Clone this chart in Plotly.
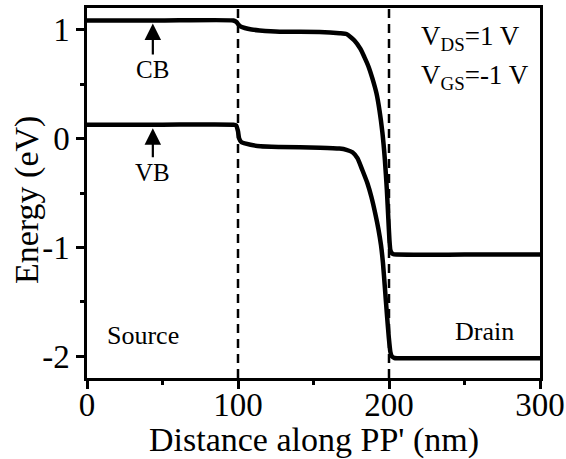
import plotly.graph_objects as go

# Position along PP' (nm) and band energies (eV)
cb_x = [0, 50, 97, 99, 100, 101.3, 104.5, 109, 114.3, 127.6, 154, 167.2, 171.8, 177.1,
        181.1, 183.7, 186.4, 189.0, 191.7, 193.7, 195.6, 197.3, 198.6, 199.6, 200.3,
        200.9, 201.6, 202.6, 204.9, 250, 300]
cb_e = [1.085, 1.085, 1.085, 1.071, 1.053, 1.034, 1.016, 1.002, 0.994, 0.982, 0.980,
        0.969, 0.961, 0.902, 0.824, 0.749, 0.663, 0.553, 0.416, 0.260, 0.058, -0.199,
        -0.475, -0.750, -0.933, -1.025, -1.048, -1.061, -1.066, -1.066, -1.066]

vb_x = [0, 50, 97, 98.7, 100, 100.7, 102.3, 108.3, 114.9, 127.8, 154.3, 167.2, 171.8,
        175.8, 179.1, 182.4, 185.7, 188.4, 191.0, 193.0, 194.7, 196.0, 197.3, 198.6,
        199.9, 200.9, 201.9, 203.6, 205.5, 250, 300]
vb_e = [0.128, 0.128, 0.128, 0.122, 0.067, 0.003, -0.034, -0.057, -0.071, -0.077, -0.084,
        -0.092, -0.103, -0.126, -0.180, -0.291, -0.410, -0.539, -0.695, -0.833, -0.979,
        -1.144, -1.373, -1.612, -1.832, -1.960, -2.002, -2.016, -2.018, -2.018, -2.018]

# Source/channel and channel/drain boundaries
boundaries = [100, 200]

x_ticks = [0, 100, 200, 300]
y_ticks = [-2, -1, 0, 1]

FONT = "Liberation Serif"

fig = go.Figure()
for xs, es, name in [(cb_x, cb_e, "CB"), (vb_x, vb_e, "VB")]:
    fig.add_trace(go.Scatter(x=xs, y=es, mode="lines", name=name,
                             line=dict(color="black", width=4.5, shape="spline", smoothing=0.5)))

for xb in boundaries:
    fig.add_shape(type="line", xref="x", yref="paper", x0=xb, x1=xb, y0=0, y1=1,
                  line=dict(color="black", width=2.5, dash="9px,6px"), layer="below")

axis_common = dict(
    showline=True, linecolor="black", linewidth=2.5, mirror=True,
    ticks="outside", tickcolor="black", tickwidth=2.5, ticklen=8,
    showgrid=False, zeroline=False, automargin=False,
    tickfont=dict(family=FONT, size=33, color="black"),
)

fig.update_xaxes(
    range=[0, 300], tickvals=x_ticks, ticktext=[str(v) for v in x_ticks],
    ticklabelstandoff=-12,
    minor=dict(dtick=50, tick0=0, ticks="outside", ticklen=4, tickwidth=2.5, tickcolor="black"),
    **axis_common,
)
fig.update_yaxes(
    range=[-2.2, 1.2], tickvals=y_ticks, ticktext=[str(v) for v in y_ticks],
    minor=dict(dtick=0.5, tick0=0, ticks="outside", ticklen=4, tickwidth=2.5, tickcolor="black"),
    **axis_common,
)

title_font = dict(family=FONT, size=34, color="black")
label_font = dict(family=FONT, size=25, color="black")
region_font = dict(family=FONT, size=26, color="black")
bias_font = dict(family=FONT, size=27, color="black")

annotations = [
    dict(xref="paper", yref="paper", x=-0.1325, y=0.481, text="Energy (eV)",
         textangle=-90, showarrow=False, xanchor="center", yanchor="middle", font=title_font),
    dict(xref="paper", yref="paper", x=0.5, y=-0.168, text="Distance along PP' (nm)",
         showarrow=False, xanchor="center", yanchor="middle", font=title_font),
    dict(x=43.6, y=1.058, text="CB", showarrow=True, ax=0, ay=46,
         arrowhead=2, arrowsize=1.5, arrowwidth=2.2, arrowcolor="black", font=label_font),
    dict(x=43.6, y=0.094, text="VB", showarrow=True, ax=0, ay=44,
         arrowhead=2, arrowsize=1.5, arrowwidth=2.2, arrowcolor="black", font=label_font),
    dict(x=37, y=-1.81, text="Source", showarrow=False, font=region_font),
    dict(x=263, y=-1.777, text="Drain", showarrow=False, font=region_font),
    dict(x=220, y=0.92, text="V<sub>DS</sub>=1 V", showarrow=False,
         xanchor="left", font=bias_font),
    dict(x=220, y=0.57, text="V<sub>GS</sub>=-1 V", showarrow=False,
         xanchor="left", font=bias_font),
]
fig.update_layout(
    annotations=annotations,
    width=566, height=459,
    margin=dict(l=87, r=26, t=8, b=81),
    paper_bgcolor="white", plot_bgcolor="white",
    showlegend=False,
)

fig.write_html("out.html")
